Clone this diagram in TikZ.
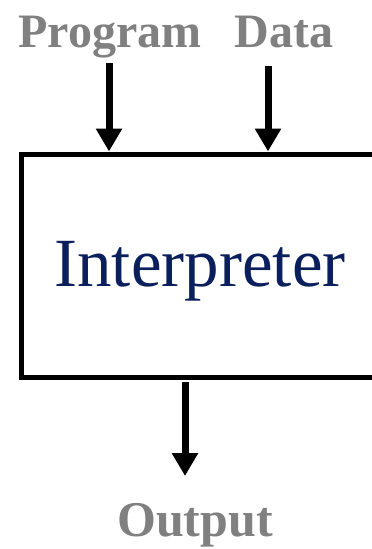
\documentclass[tikz,border=0pt]{standalone}
\usepackage{fontspec}
\setmainfont{Liberation Serif}
\usetikzlibrary{arrows.meta}
\definecolor{labelgray}{HTML}{808080}
\definecolor{navy}{HTML}{0B1F5C}
\begin{document}
\begin{tikzpicture}[x=1pt,y=-1pt,
  label text/.style={text=labelgray,font=\fontsize{48}{48}\selectfont\bfseries,anchor=base,inner sep=0pt},
  flow/.style={line width=7pt,-{Triangle[width=25pt,length=23pt]}},
  block/.style={draw=black,line width=5pt,rectangle,minimum width=379pt,minimum height=223pt,inner sep=0pt}]
  \useasboundingbox (0,0) rectangle (372,549);
  \begin{scope}
    \clip (0,0) rectangle (372,549);
    \node[block] (interp) at (210.5,265.5) {};
  \end{scope}
  \node[text=navy,font=\fontsize{69}{69}\selectfont,anchor=base,inner sep=0pt] (title) at (200,286) {Interpreter};
  \node[label text] (program) at (110,47) {Program};
  \node[label text] (data) at (284,47) {Data};
  \node[label text,font=\fontsize{50}{50}\selectfont\bfseries] (output) at (195,536) {Output};
  \coordinate (pin) at (109,63);
  \coordinate (din) at (268,66);
  \coordinate (oout) at (185,382);
  \coordinate (oend) at (185,476);
  \draw[flow] (pin) -- (pin |- interp.north);
  \draw[flow] (din) -- (din |- interp.north);
  \draw[flow] (oout) -- (oend);
\end{tikzpicture}
\end{document}
